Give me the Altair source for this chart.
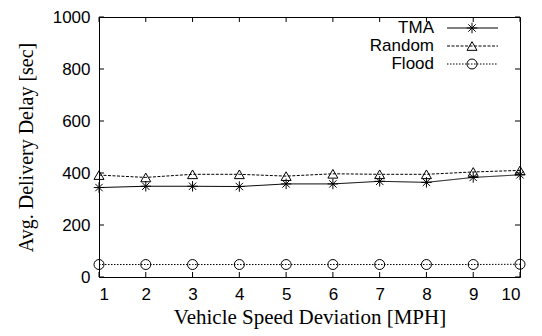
import altair as alt
import pandas as pd

speed = [1, 2, 3, 4, 5, 6, 7, 8, 9, 10]
tma = [344, 349, 349, 348, 358, 358, 368, 364, 383, 393]
rnd = [392, 383, 395, 395, 388, 397, 395, 395, 404, 410]
flood = [48, 48, 48, 48, 48, 48, 48, 48, 48, 49]
series_names = ["TMA", "Random", "Flood"]
x_ticks = speed
y_ticks = [0, 200, 400, 600, 800, 1000]

W, H = 421, 260
ASTERISK = "M-1,0L1,0M0,-1L0,1M-0.7,-0.7L0.7,0.7M-0.7,0.7L0.7,-0.7"

xs = alt.Scale(domain=[1, 10], nice=False, zero=False)
ys = alt.Scale(domain=[0, 1000], nice=False)

styles = {
    "TMA": dict(dash=[1, 0], shape=ASTERISK, size=110),
    "Random": dict(dash=[3, 1.5], shape="triangle-up", size=100),
    "Flood": dict(dash=[1.5, 1.5], shape="circle", size=100),
}
values = {"TMA": tma, "Random": rnd, "Flood": flood}

layers = []
for name in series_names:
    df = pd.DataFrame({"x": speed, "y": values[name]})
    st = styles[name]
    base = alt.Chart(df).encode(
        x=alt.X("x:Q", scale=xs,
                axis=alt.Axis(values=x_ticks, title="Vehicle Speed Deviation [MPH]",
                              format="d")),
        y=alt.Y("y:Q", scale=ys,
                axis=alt.Axis(values=y_ticks, title="Avg. Delivery Delay [sec]",
                              format="d")),
    )
    layers.append(base.mark_line(color="black", strokeWidth=1, strokeDash=st["dash"]))
    layers.append(base.mark_point(shape=st["shape"], size=st["size"], filled=False,
                                  color="black", strokeWidth=1, opacity=1))

# inward mirrored ticks
xt = pd.DataFrame({"x": x_ticks})
yt = pd.DataFrame({"y": y_ticks})
tick = dict(color="black", strokeWidth=1)
layers.append(alt.Chart(xt).mark_rule(**tick).encode(
    x=alt.X("x:Q", scale=xs), y=alt.value(H), y2=alt.value(H - 5)))
layers.append(alt.Chart(xt).mark_rule(**tick).encode(
    x=alt.X("x:Q", scale=xs), y=alt.value(0), y2=alt.value(5)))
layers.append(alt.Chart(yt).mark_rule(**tick).encode(
    y=alt.Y("y:Q", scale=ys), x=alt.value(0), x2=alt.value(5)))
layers.append(alt.Chart(yt).mark_rule(**tick).encode(
    y=alt.Y("y:Q", scale=ys), x=alt.value(W), x2=alt.value(W - 5)))

# legend
legend_y = [11, 29, 47]
for i, name in enumerate(series_names):
    st = styles[name]
    ld = pd.DataFrame({"label": [name]})
    ly = legend_y[i]
    layers.append(alt.Chart(ld).mark_text(align="right", baseline="middle", fontSize=17,
                                          font="Liberation Sans", color="black").encode(
        text="label:N", x=alt.value(335), y=alt.value(ly)))
    layers.append(alt.Chart(ld).mark_rule(color="black", strokeWidth=1,
                                          strokeDash=st["dash"]).encode(
        x=alt.value(348), x2=alt.value(399), y=alt.value(ly)))
    layers.append(alt.Chart(ld).mark_point(shape=st["shape"], size=st["size"], filled=False,
                                           color="black", strokeWidth=1, opacity=1).encode(
        x=alt.value(373), y=alt.value(ly)))

chart = alt.layer(*layers).properties(
    width=W, height=H,
    autosize=alt.AutoSizeParams(type="none"),
    padding={"left": 91, "top": 9, "right": 14, "bottom": 60},
).configure_view(stroke="black", strokeWidth=1).configure_axis(
    ticks=False, domain=False, grid=False,
    labelFont="Liberation Sans", labelFontSize=17, labelColor="black",
    titleFont="Liberation Serif", titleFontWeight="normal",
    titleColor="black",
).configure_axisX(labelPadding=9, titlePadding=4, titleFontSize=21).configure_axisY(
    labelPadding=9, titlePadding=16, titleFontSize=20)

chart.save("out.html", embed_options={"renderer": "svg", "actions": False})
